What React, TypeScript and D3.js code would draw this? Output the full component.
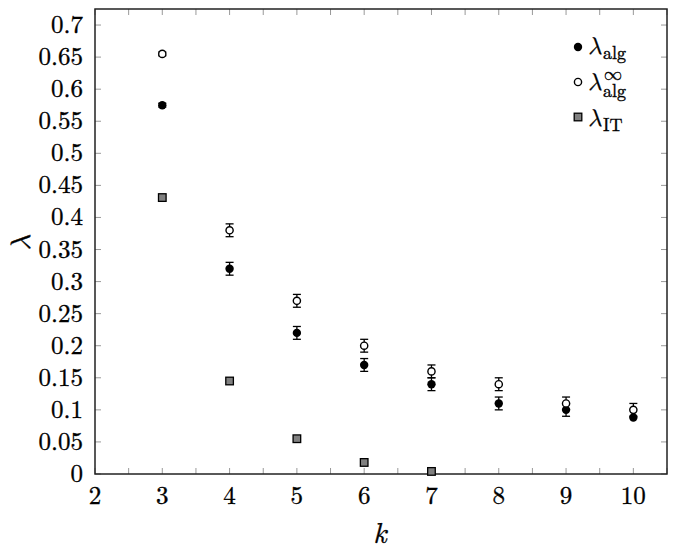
import { scaleLinear, range } from "d3";

const ks = [3, 4, 5, 6, 7, 8, 9, 10];
const algValues = [0.575, 0.32, 0.22, 0.17, 0.14, 0.11, 0.1, 0.088];
const algErrors = [0.003, 0.01, 0.01, 0.01, 0.01, 0.01, 0.01, 0];
const algInfValues = [0.655, 0.38, 0.27, 0.2, 0.16, 0.14, 0.11, 0.1];
const algInfErrors = [0.003, 0.01, 0.01, 0.01, 0.01, 0.01, 0.01, 0.01];
const itKs = [3, 4, 5, 6, 7];
const itValues = [0.431, 0.145, 0.055, 0.018, 0.004];

const xTicks = [2, 3, 4, 5, 6, 7, 8, 9, 10];
const yTicks = range(0, 0.7001, 0.05);

const W = 680;
const H = 555;
const left = 95;
const right = 667;
const top = 9;
const bottom = 474;
const FONT = "'Latin Modern Roman', 'Liberation Serif', serif";
const GREEK = "'Latin Modern Math', 'DejaVu Serif', serif";
const INK = { stroke: "#000", strokeWidth: 0.35 };

function ErrorBar({ x, y0, y1 }: { x: number; y0: number; y1: number }) {
    return (
        <g stroke="#000" strokeWidth={1.3}>
            <line x1={x} x2={x} y1={y0} y2={y1} />
            <line x1={x - 4} x2={x + 4} y1={y0} y2={y0} />
            <line x1={x - 4} x2={x + 4} y1={y1} y2={y1} />
        </g>
    );
}

function Lambda({ x, y, sub, sup }: { x: number; y: number; sub: string; sup?: string }) {
    return (
        <g {...INK}>
            <text x={x} y={y} fontSize={24} fontStyle="italic" style={{ fontFamily: GREEK }}>λ</text>
            {sup && <text x={x + 16} y={y - 10} fontSize={18} style={{ fontFamily: GREEK }}>{sup}</text>}
            <text x={x + 15} y={y + (sup ? 7 : 5)} fontSize={18} style={{ fontFamily: FONT }}>{sub}</text>
        </g>
    );
}

export default function App() {
    const x = scaleLinear().domain([2, 10.5]).range([left, right]);
    const y = scaleLinear().domain([0, 0.725]).range([bottom, top]);
    const minorX = range(2, 10.5001, 0.5);

    return (
        <svg width={W} height={H} style={{ position: "absolute", left: 0, top: 0, background: "#fff" }}>
            <rect x={0} y={0} width={W} height={H} fill="#fff" />
            {/* ticks */}
            <g stroke="#999" strokeWidth={1}>
                {minorX.map((v) => (
                    <g key={`xt-${v}`}>
                        <line x1={x(v)} x2={x(v)} y1={bottom} y2={bottom - 6} />
                        <line x1={x(v)} x2={x(v)} y1={top} y2={top + 6} />
                    </g>
                ))}
                {yTicks.map((v) => (
                    <g key={`yt-${v}`}>
                        <line x1={left} x2={left + 6} y1={y(v)} y2={y(v)} />
                        <line x1={right} x2={right - 6} y1={y(v)} y2={y(v)} />
                    </g>
                ))}
            </g>
            <rect x={left} y={top} width={right - left} height={bottom - top} fill="none" stroke="#222" strokeWidth={1.5} />
            {/* tick labels */}
            <g {...INK}>
                {xTicks.map((v) => (
                    <text key={`xl-${v}`} x={x(v)} y={bottom + 30} textAnchor="middle" fontSize={25} style={{ fontFamily: FONT }}>
                        {v}
                    </text>
                ))}
                {yTicks.map((v) => (
                    <text key={`yl-${v}`} x={left - 12} y={y(v) + 8} textAnchor="end" fontSize={25} style={{ fontFamily: FONT }}>
                        {+v.toFixed(2)}
                    </text>
                ))}
                <text x={380} y={543} textAnchor="middle" fontSize={29} fontStyle="italic" style={{ fontFamily: FONT }}>k</text>
                <text transform="translate(30,243) rotate(-90)" textAnchor="middle" fontSize={28} fontStyle="italic" style={{ fontFamily: GREEK }}>λ</text>
            </g>

            {/* error bars */}
            {ks.map((k, i) => algErrors[i] > 0 && (
                <ErrorBar key={`ea-${k}`} x={x(k)} y0={y(algValues[i] - algErrors[i])} y1={y(algValues[i] + algErrors[i])} />
            ))}
            {ks.map((k, i) => algInfErrors[i] > 0 && (
                <ErrorBar key={`eb-${k}`} x={x(k)} y0={y(algInfValues[i] - algInfErrors[i])} y1={y(algInfValues[i] + algInfErrors[i])} />
            ))}
            {/* marks */}
            {ks.map((k, i) => (
                <circle key={`a-${k}`} cx={x(k)} cy={y(algValues[i])} r={4.2} fill="#000" />
            ))}
            {ks.map((k, i) => (
                <circle key={`b-${k}`} cx={x(k)} cy={y(algInfValues[i])} r={3.6} fill="#fff" stroke="#000" strokeWidth={1.4} />
            ))}
            {itKs.map((k, i) => (
                <rect key={`c-${k}`} x={x(k) - 3.8} y={y(itValues[i]) - 3.8} width={7.6} height={7.6} fill="#808080" stroke="#000" strokeWidth={1.3} />
            ))}

            {/* legend */}
            <circle cx={578} cy={47} r={4.2} fill="#000" />
            <Lambda x={588} y={54} sub="alg" />
            <circle cx={578} cy={82} r={3.6} fill="#fff" stroke="#000" strokeWidth={1.4} />
            <Lambda x={588} y={90} sub="alg" sup="∞" />
            <rect x={574.2} y={113.2} width={7.6} height={7.6} fill="#808080" stroke="#000" strokeWidth={1.3} />
            <Lambda x={588} y={126} sub="IT" />
        </svg>
    );
}
